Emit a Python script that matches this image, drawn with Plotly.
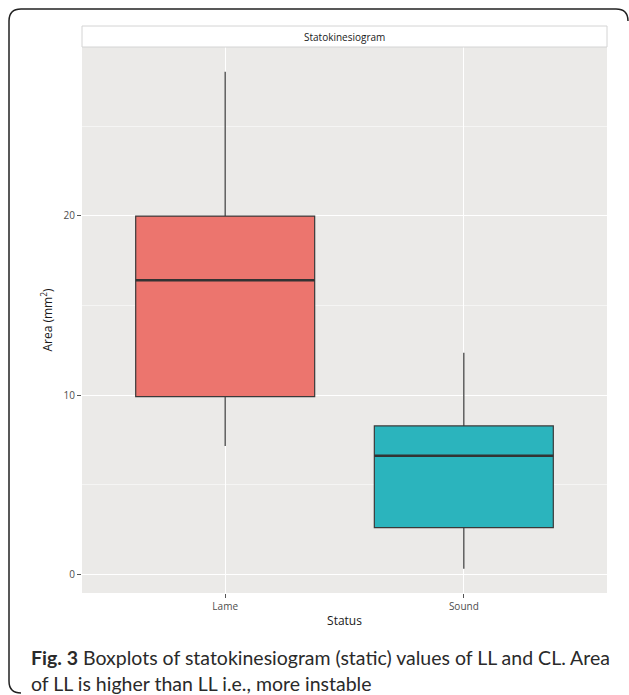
import plotly.graph_objects as go

categories = ["Lame", "Sound"]
lower_whisker = [7.16, 0.32]
q1 = [9.91, 2.61]
median = [16.40, 6.62]
q3 = [19.98, 8.28]
upper_whisker = [28.03, 12.36]
fill_colors = ["#EC756E", "#2BB4BD"]
y_ticks = [0, 10, 20]
y_minor = [5, 15, 25]

W, H = 629, 695
L, R, T, B = 82, 607, 47, 593
pw, ph = R - L, B - T
def px(x): return (x - L) / pw
def py(y): return (B - y) / ph

box_w = 0.75
xs = list(range(len(categories)))

fig = go.Figure()
for i, c in enumerate(categories):
    fig.add_trace(go.Box(
        x=[xs[i]], q1=[q1[i]], median=[median[i]], q3=[q3[i]],
        lowerfence=[lower_whisker[i]], upperfence=[upper_whisker[i]],
        width=box_w, whiskerwidth=0, fillcolor=fill_colors[i],
        line=dict(color="#3a3a3a", width=1.2), name=c,
        hoverinfo="skip", boxpoints=False, showlegend=False))
    fig.add_trace(go.Scatter(
        x=[xs[i] - box_w / 2, xs[i] + box_w / 2], y=[median[i], median[i]],
        mode="lines", line=dict(color="#333333", width=2.6),
        hoverinfo="skip", showlegend=False))

shapes = []
# strip
shapes.append(dict(type="rect", xref="paper", yref="paper",
                   x0=0, x1=1, y0=py(T), y1=py(26), fillcolor="white",
                   line=dict(color="#d4d4d4", width=1), layer="above"))
# figure border (rounded)
x0, y0, x1, y1, r = 9, 9, 628, 693, 12
path = (f"M {px(x0)} {py(y0 + r)} L {px(x0)} {py(y1 - r)} "
        f"Q {px(x0)} {py(y1)} {px(x0 + r)} {py(y1)} "
        f"M {px(x0)} {py(y0 + r)} Q {px(x0)} {py(y0)} {px(x0 + r)} {py(y0)} "
        f"L {px(x1 - r)} {py(y0)} Q {px(x1)} {py(y0)} {px(x1)} {py(y0 + r)}")
shapes.append(dict(type="path", xref="paper", yref="paper", path=path,
                   line=dict(color="#222222", width=1.5)))

annotations = [
    dict(text="Statokinesiogram", xref="paper", yref="paper", x=0.5, y=py(36.5),
         showarrow=False, font=dict(size=10, color="#1a1a1a", family="Open Sans"),
         xanchor="center", yanchor="middle"),
    dict(text="<b>Fig. 3</b> Boxplots of statokinesiogram (static) values of LL and CL. Area",
         xref="paper", yref="paper", x=px(29), y=py(657), showarrow=False,
         xanchor="left", yanchor="middle",
         font=dict(size=19.5, color="#2a2a2a", family="Lato")),
    dict(text="of LL is higher than LL i.e., more instable",
         xref="paper", yref="paper", x=px(29), y=py(683), showarrow=False,
         xanchor="left", yanchor="middle",
         font=dict(size=19.5, color="#2a2a2a", family="Lato")),
]

fig.update_layout(
    width=W, height=H, margin=dict(l=L, r=W - R, t=T, b=H - B, pad=0),
    paper_bgcolor="white", plot_bgcolor="#EBEAE8",
    font=dict(family="Open Sans", color="#4d4d4d"),
    shapes=shapes, annotations=annotations,
    xaxis=dict(range=[-0.6, 1.6], tickvals=xs, ticktext=categories,
               showgrid=True, gridcolor="white", gridwidth=1.2, zeroline=False,
               ticks="outside", ticklen=4, tickcolor="#555", tickwidth=1,
               tickfont=dict(size=10, color="#4d4d4d"),
               title=dict(text="Status", font=dict(size=12, color="#1a1a1a"), standoff=4)),
    yaxis=dict(range=[-(B - 574.5) / 17.94, (574.5 - T) / 17.94],
               tickvals=y_ticks, showgrid=True, gridcolor="white", gridwidth=1.2,
               zeroline=False, ticks="outside", ticklen=4, tickcolor="#555",
               tickfont=dict(size=10, color="#4d4d4d"),
               minor=dict(tickvals=y_minor, showgrid=True, gridcolor="#F5F5F4",
                          gridwidth=0.6, ticks=""),
               title=dict(text="Area (mm<sup>2</sup>)", font=dict(size=12, color="#1a1a1a"),
                          standoff=8)),
)
fig.write_html("out.html", config={"displayModeBar": False},
               post_script="document.body.style.margin='0';document.body.style.overflow='hidden';")
